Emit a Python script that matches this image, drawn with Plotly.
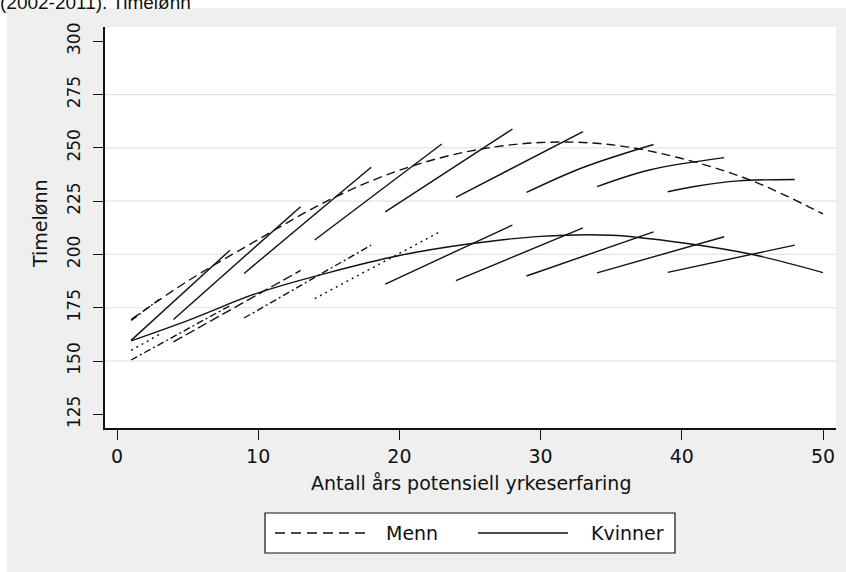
import plotly.graph_objects as go

# Estimated wage profiles (quadratic fit), hourly wage by years of potential experience
erfaring = [1, 5, 10, 15, 20, 25, 30, 35, 40, 45, 50]
menn = [169.5, 187.5, 207.0, 225.5, 239.5, 248.5, 252.5, 251.5, 245.0, 234.5, 219.0]
kvinner = [159.5, 169.0, 182.0, 191.5, 199.5, 205.0, 208.5, 209.0, 205.5, 200.0, 191.5]

# Cohort profiles 2002-2011, men
menn_kohort_x = [[1, 3], [1, 8], [4, 13], [9, 18], [14, 23], [19, 28], [24, 33],
                 [29, 33, 38], [34, 37.7, 43], [39, 41, 44, 48]]
menn_kohort_y = [[169.0, 179.0], [159.7, 202.0], [169.5, 222.4], [191.1, 240.9],
                 [206.8, 251.8], [220.0, 258.8], [226.8, 257.6],
                 [229.1, 240.8, 251.6], [231.8, 239.6, 245.4], [229.4, 232.0, 234.5, 235.2]]
menn_kohort_dash = ["7px,3px,2px,3px", "solid", "solid", "solid", "solid", "solid",
                    "solid", "solid", "solid", "solid"]

# Cohort profiles 2002-2011, women
kvinner_kohort_x = [[1, 3], [1, 8], [4, 13], [9, 18], [14, 23], [19, 28], [24, 33],
                    [29, 38], [34, 43], [39, 48]]
kvinner_kohort_y = [[155.0, 162.5], [150.5, 176.0], [159.0, 192.5], [170.2, 204.4],
                    [179.3, 211.1], [186.1, 213.8], [187.7, 212.5], [189.9, 210.6],
                    [191.4, 208.3], [191.6, 204.4]]
kvinner_kohort_dash = ["2px,4px", "7px,3px,2px,3px", "10px,4px", "7px,3px,2px,3px",
                       "2px,4px", "solid", "solid", "solid", "solid", "solid"]

x_ticks = [0, 10, 20, 30, 40, 50]
y_ticks = [125, 150, 175, 200, 225, 250, 275, 300]
grid_vals = [150, 175, 200, 225, 250, 275]

W, H = 846, 572
L, R, T, B = 105, 10, 27, 144
PW, PH = W - L - R, H - T - B
FONT = "DejaVu Sans"
INK = "#111111"


def px(x):
    return (x - L) / PW


def py(y):
    return (H - B - y) / PH


fig = go.Figure()

for xs, ys, d in zip(menn_kohort_x, menn_kohort_y, menn_kohort_dash):
    fig.add_trace(go.Scatter(x=xs, y=ys, mode="lines", showlegend=False,
                             line=dict(color=INK, width=1.4, dash=d, shape="spline")))
for xs, ys, d in zip(kvinner_kohort_x, kvinner_kohort_y, kvinner_kohort_dash):
    fig.add_trace(go.Scatter(x=xs, y=ys, mode="lines", showlegend=False,
                             line=dict(color=INK, width=1.4, dash=d, shape="spline")))

fig.add_trace(go.Scatter(x=erfaring, y=menn, mode="lines", name="Menn", showlegend=False,
                         line=dict(color=INK, width=1.4, dash="9px,5px", shape="spline")))
fig.add_trace(go.Scatter(x=erfaring, y=kvinner, mode="lines", name="Kvinner", showlegend=False,
                         line=dict(color=INK, width=1.4, shape="spline")))

shapes = []
# white margin strip along the top and left edges
shapes.append(dict(type="rect", xref="paper", yref="paper", x0=px(0), x1=px(W),
                   y0=py(8), y1=py(0), fillcolor="white", line=dict(width=0), layer="below"))
shapes.append(dict(type="rect", xref="paper", yref="paper", x0=px(0), x1=px(7),
                   y0=py(H), y1=py(0), fillcolor="white", line=dict(width=0), layer="below"))
# horizontal grid lines
for g in grid_vals:
    shapes.append(dict(type="line", xref="paper", yref="y", x0=0, x1=1, y0=g, y1=g,
                       line=dict(color="#E4E4E4", width=1.2), layer="below"))
# legend box and keys
shapes.append(dict(type="rect", xref="paper", yref="paper", x0=px(265), x1=px(675),
                   y0=py(553), y1=py(513), fillcolor="white", line=dict(color=INK, width=1.2)))
shapes.append(dict(type="line", xref="paper", yref="paper", x0=px(275), x1=px(371),
                   y0=py(533), y1=py(533), line=dict(color=INK, width=1.3, dash="10px,6px")))
shapes.append(dict(type="line", xref="paper", yref="paper", x0=px(478), x1=px(568),
                   y0=py(533), y1=py(533), line=dict(color=INK, width=1.3)))

annotations = [
    dict(text="Antall års potensiell yrkeserfaring", xref="paper", yref="paper",
         x=px(471), y=py(483), xanchor="center", yanchor="middle", showarrow=False,
         font=dict(family=FONT, size=19, color=INK)),
    dict(text="Timelønn", xref="paper", yref="paper", x=px(40), y=py(224),
         xanchor="center", yanchor="middle", textangle=-90, showarrow=False,
         font=dict(family=FONT, size=19, color=INK)),
    dict(text="Menn", xref="paper", yref="paper", x=px(384), y=py(533),
         xanchor="left", yanchor="middle", showarrow=False,
         font=dict(family=FONT, size=19, color=INK)),
    dict(text="Kvinner", xref="paper", yref="paper", x=px(589), y=py(533),
         xanchor="left", yanchor="middle", showarrow=False,
         font=dict(family=FONT, size=19, color=INK)),
    dict(text="(2002-2011). Timelønn", xref="paper", yref="paper", x=px(-2), y=py(15),
         xanchor="left", yanchor="bottom", showarrow=False,
         font=dict(family="Liberation Sans", size=19, color=INK)),
]

fig.update_layout(
    width=W, height=H,
    margin=dict(l=L, r=R, t=T, b=B, pad=0),
    paper_bgcolor="#EFEFEF",
    plot_bgcolor="white",
    shapes=shapes,
    annotations=annotations,
    showlegend=False,
    xaxis=dict(range=[-0.85, 50.92], tickvals=x_ticks, ticks="outside", ticklen=10,
               tickwidth=1.3, tickcolor=INK, showline=True, linecolor=INK, linewidth=1.5,
               showgrid=False, zeroline=False,
               tickfont=dict(family=FONT, size=19, color=INK)),
    yaxis=dict(range=[118.6, 306.7], tickvals=y_ticks, ticks="outside", ticklen=10,
               tickwidth=1.3, tickcolor=INK, showline=True, linecolor=INK, linewidth=1.5,
               showgrid=False, zeroline=False, tickangle=-90, ticklabelstandoff=6,
               tickfont=dict(family=FONT, size=17, color=INK)),
)

fig.write_html("out.html")
